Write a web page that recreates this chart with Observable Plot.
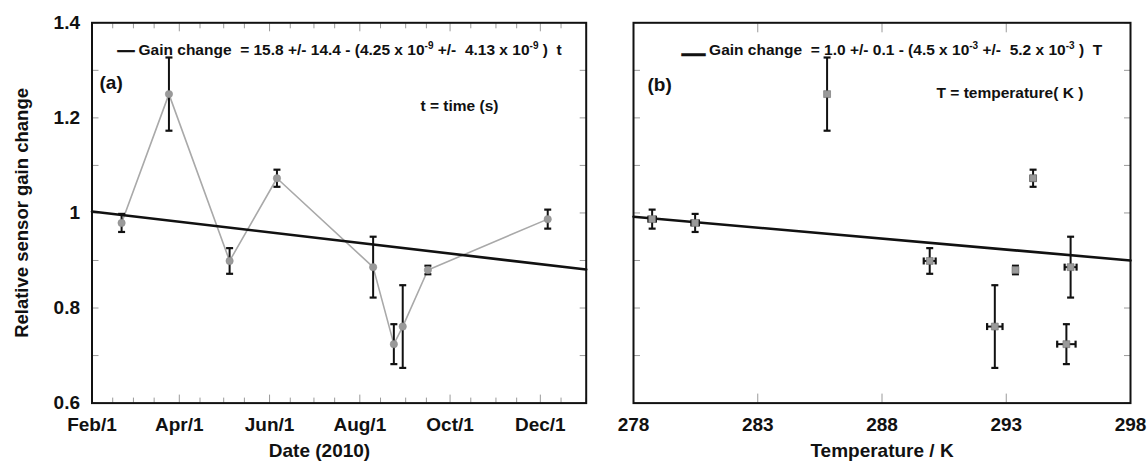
<!DOCTYPE html>
<html>
<head>
<meta charset="utf-8">
<script src="https://cdn.jsdelivr.net/npm/d3@7"></script>
<script src="https://cdn.jsdelivr.net/npm/@observablehq/plot@0.6"></script>
<style>
  html, body { margin: 0; padding: 0; background: #fff; }
  #wrap { position: relative; width: 1148px; height: 470px; overflow: hidden; }
  #wrap svg { position: absolute; top: 0; }
  #wrap svg text { white-space: pre; }
</style>
</head>
<body>
<div id="wrap"></div>
<script>
// ---- data ----
const dates          = ["2010-02-21","2010-03-25","2010-05-05","2010-06-06","2010-08-10","2010-08-24","2010-08-30","2010-09-16","2010-12-06"];
const gain           = [0.979, 1.250, 0.899, 1.073, 0.886, 0.724, 0.761, 0.880, 0.987];
const gainErr        = [0.019, 0.077, 0.027, 0.018, 0.064, 0.042, 0.087, 0.009, 0.020];
const temperature    = [280.48, 285.79, 289.92, 294.08, 295.59, 295.42, 292.54, 293.37, 278.75];
const temperatureErr = [0.15, 0.00, 0.24, 0.10, 0.24, 0.37, 0.31, 0.08, 0.15];

// fitted lines (end values)
const fitDates     = ["2010-02-01", "2011-01-01"];
const fitDateGain  = [1.003, 0.881];
const fitTemps     = [278, 298];
const fitTempGain  = [0.992, 0.900];

// ticks
const yMajor      = [0.6, 0.8, 1.0, 1.2, 1.4];
const yMajorText  = ["0.6", "0.8", "1", "1.2", "1.4"];
const yAll        = [0.6, 0.7, 0.8, 0.9, 1.0, 1.1, 1.2, 1.3, 1.4];
const dateTicks   = ["2010-02-01","2010-04-01","2010-06-01","2010-08-01","2010-10-01","2010-12-01"];
const dateText    = ["Feb/1","Apr/1","Jun/1","Aug/1","Oct/1","Dec/1"];
const tempTicks   = [278, 283, 288, 293, 298];

// texts
const yTitle   = "Relative sensor gain change";
const xTitleA  = "Date (2010)";
const xTitleB  = "Temperature / K";
const legendA  = "Gain change  = 15.8 +/- 14.4 - (4.25 x 10^-9 +/-  4.13 x 10^-9 )  t";
const legendB  = "Gain change  = 1.0 +/- 0.1 - (4.5 x 10^-3 +/-  5.2 x 10^-3 )  T";
const noteA    = "t = time (s)";
const noteB    = "T = temperature( K )";

// ---- build tables ----
const rows = dates.map((d, i) => ({
  date: new Date(d), gain: gain[i], err: gainErr[i], T: temperature[i], Terr: temperatureErr[i]
}));
const fitA = fitDates.map((d, i) => ({date: new Date(d), gain: fitDateGain[i]}));
const fitB = fitTemps.map((t, i) => ({T: t, gain: fitTempGain[i]}));
const dateTickDates = dateTicks.map(d => new Date(d));
const minorDates = [];
for (const m of d3.utcMonth.range(new Date("2010-02-01"), new Date("2011-01-02"))) {
  if (!dateTicks.includes(d3.utcFormat("%Y-%m-%d")(m))) minorDates.push(m);
  const mid = d3.utcDay.offset(m, 14);
  if (mid < new Date("2011-01-01")) minorDates.push(mid);
}

const FONT = "'Liberation Sans', Arial, Helvetica, sans-serif";
const H = 470;
const mTop = 22.3, mBottom = H - 402.6;
const INK = "#111";
const TICK = "#9a9a9a";

const hCap = {draw(ctx, size) { const r = Math.sqrt(size / Math.PI); ctx.moveTo(-r, 0); ctx.lineTo(r, 0); }};
const vCap = {draw(ctx, size) { const r = Math.sqrt(size / Math.PI); ctx.moveTo(0, -r); ctx.lineTo(0, r); }};

const baseStyle = {fontFamily: FONT, fontWeight: "bold", fontSize: "19px", color: INK, background: "transparent", overflow: "visible"};

function yAxes() {
  return [
    Plot.axisY(yAll, {anchor: "left", tickSize: -7, tickFormat: () => "", stroke: TICK, label: null}),
    Plot.axisY(yAll, {anchor: "right", tickSize: -7, tickFormat: () => "", stroke: TICK, label: null})
  ];
}

// ---- left panel ----
const left = Plot.plot({
  width: 600, height: H,
  marginLeft: 91.5, marginRight: 600 - 585.7, marginTop: mTop, marginBottom: mBottom,
  style: baseStyle,
  x: {type: "utc", domain: [new Date("2010-02-01"), new Date("2011-01-01")], label: null},
  y: {domain: [0.6, 1.4], label: null},
  marks: [
    ...yAxes(),
    Plot.axisY(yMajor, {anchor: "left", tickSize: 0, tickPadding: 12, tickFormat: d => yMajorText[yMajor.indexOf(d)], label: null, fontSize: 19}),
    Plot.axisX(dateTickDates, {anchor: "bottom", tickSize: -8, tickFormat: () => "", stroke: TICK, label: null}),
    Plot.axisX(minorDates, {anchor: "bottom", tickSize: -5, tickFormat: () => "", stroke: TICK, label: null}),
    Plot.axisX(dateTickDates, {anchor: "top", tickSize: -8, tickFormat: () => "", stroke: TICK, label: null}),
    Plot.axisX(minorDates, {anchor: "top", tickSize: -5, tickFormat: () => "", stroke: TICK, label: null}),
    Plot.axisX(dateTickDates, {anchor: "bottom", tickSize: 0, tickPadding: 14.5, label: null, fontSize: 19,
      tickFormat: d => dateText[dateTickDates.findIndex(t => +t === +d)]}),
    Plot.line(rows, {x: "date", y: "gain", stroke: "#a9a9a9", strokeWidth: 1.6}),
    Plot.line(fitA, {x: "date", y: "gain", stroke: INK, strokeWidth: 2.6}),
    Plot.ruleX(rows, {x: "date", y1: d => d.gain - d.err, y2: d => d.gain + d.err, stroke: INK, strokeWidth: 2}),
    Plot.dot(rows, {x: "date", y: d => d.gain + d.err, symbol: hCap, r: 3.5, fill: "none", stroke: INK, strokeWidth: 2.2}),
    Plot.dot(rows, {x: "date", y: d => d.gain - d.err, symbol: hCap, r: 3.5, fill: "none", stroke: INK, strokeWidth: 2.2}),
    Plot.dot(rows, {x: "date", y: "gain", r: 3.7, fill: "#9a9a9a", stroke: "#8a8a8a", strokeWidth: 0.5}),
    Plot.frame({stroke: INK, strokeWidth: 2}),
    Plot.text(["\u2014"], {frameAnchor: "top-left", dx: 25.5, dy: 21.5, textAnchor: "start", fontSize: 17, fill: INK, stroke: INK, strokeWidth: 0.7}),
    Plot.text([legendA], {frameAnchor: "top-left", dx: 46.5, dy: 21.5, textAnchor: "start", fontSize: 15.5}),
    Plot.text(["(a)"], {frameAnchor: "top-left", dx: 7.5, dy: 52.7, textAnchor: "start", fontSize: 19}),
    Plot.text([noteA], {frameAnchor: "top-left", dx: 328.5, dy: 77, textAnchor: "start", fontSize: 15.5}),
    Plot.text([yTitle], {frameAnchor: "left", dx: 22 - 91.5, rotate: -90, textAnchor: "middle", fontSize: 18.5}),
    Plot.text([xTitleA], {frameAnchor: "bottom", dx: 319 - 338.6, dy: 54, fontSize: 19})
  ]
});

// ---- right panel ----
const right = Plot.plot({
  width: 548, height: H,
  marginLeft: 33, marginRight: 548 - 530, marginTop: mTop, marginBottom: mBottom,
  style: baseStyle,
  x: {domain: [278, 298], label: null},
  y: {domain: [0.6, 1.4], label: null},
  marks: [
    ...yAxes(),
    Plot.axisX(tempTicks, {anchor: "bottom", tickSize: -9, tickFormat: () => "", stroke: TICK, label: null}),
    Plot.axisX(tempTicks, {anchor: "top", tickSize: -9, tickFormat: () => "", stroke: TICK, label: null}),
    Plot.axisX(tempTicks, {anchor: "bottom", tickSize: 0, tickPadding: 14.5, tickFormat: d => String(d), label: null, fontSize: 19}),
    Plot.line(fitB, {x: "T", y: "gain", stroke: INK, strokeWidth: 2.6}),
    Plot.ruleX(rows, {x: "T", y1: d => d.gain - d.err, y2: d => d.gain + d.err, stroke: INK, strokeWidth: 2}),
    Plot.dot(rows, {x: "T", y: d => d.gain + d.err, symbol: hCap, r: 3.5, fill: "none", stroke: INK, strokeWidth: 2.2}),
    Plot.dot(rows, {x: "T", y: d => d.gain - d.err, symbol: hCap, r: 3.5, fill: "none", stroke: INK, strokeWidth: 2.2}),
    Plot.ruleY(rows.filter(d => d.Terr > 0), {y: "gain", x1: d => d.T - d.Terr, x2: d => d.T + d.Terr, stroke: INK, strokeWidth: 2}),
    Plot.dot(rows.filter(d => d.Terr > 0), {x: d => d.T - d.Terr, y: "gain", symbol: vCap, r: 3.5, fill: "none", stroke: INK, strokeWidth: 2.2}),
    Plot.dot(rows.filter(d => d.Terr > 0), {x: d => d.T + d.Terr, y: "gain", symbol: vCap, r: 3.5, fill: "none", stroke: INK, strokeWidth: 2.2}),
    Plot.dot(rows, {x: "T", y: "gain", symbol: "square", r: 3.9, fill: "#9a9a9a", stroke: "#6f6f6f", strokeWidth: 0.6}),
    Plot.frame({stroke: INK, strokeWidth: 2}),
    Plot.text(["\u2014"], {frameAnchor: "top-left", dx: 48, dy: 21.5, textAnchor: "start", fontSize: 24, fill: INK, stroke: INK, strokeWidth: 0.5}),
    Plot.text([legendB], {frameAnchor: "top-left", dx: 75.6, dy: 21.5, textAnchor: "start", fontSize: 15.5}),
    Plot.text(["(b)"], {frameAnchor: "top-left", dx: 14, dy: 54.7, textAnchor: "start", fontSize: 19}),
    Plot.text([noteB], {frameAnchor: "top-left", dx: 303, dy: 63.7, textAnchor: "start", fontSize: 15.5}),
    Plot.text([xTitleB], {frameAnchor: "bottom", dx: 0, dy: 54, fontSize: 19})
  ]
});
right.style.left = "600px";
left.style.left = "0px";

// superscripts: turn "10^-9" into 10 with a raised tspan
function superscripts(svg) {
  svg.querySelectorAll("text").forEach(t => {
    if (!t.textContent.includes("^")) return;
    const parts = t.textContent.split(/\^(-?\d+)/);
    t.textContent = "";
    parts.forEach((p, i) => {
      const ts = document.createElementNS("http://www.w3.org/2000/svg", "tspan");
      ts.textContent = p;
      if (i % 2 === 1) { ts.setAttribute("dy", "-6"); ts.setAttribute("font-size", "10"); }
      else if (i > 0) { ts.setAttribute("dy", "6"); }
      t.appendChild(ts);
    });
  });
}
superscripts(left);
superscripts(right);

document.getElementById("wrap").append(left, right);
</script>
</body>
</html>
